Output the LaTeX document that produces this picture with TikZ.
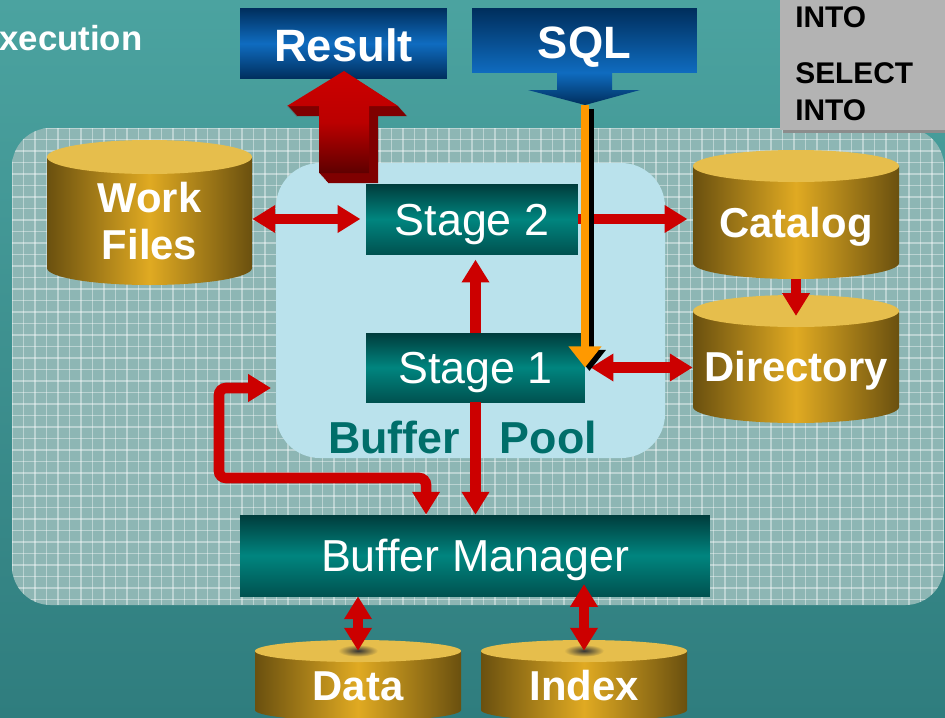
\documentclass[tikz,border=0pt]{standalone}
\usepackage{fontspec}
\setmainfont{Liberation Sans}
\usetikzlibrary{arrows.meta,calc}
\definecolor{bgtop}{HTML}{4BA3A0}
\definecolor{bgbot}{HTML}{2F7D7E}
\definecolor{panelfill}{HTML}{8DB6B4}
\definecolor{poolfill}{HTML}{BAE2EC}
\definecolor{tealdk}{HTML}{003C3C}
\definecolor{tealmd}{HTML}{00857F}
\definecolor{bluedk}{HTML}{002E5C}
\definecolor{bluemd}{HTML}{0F6CC0}
\definecolor{golddk}{HTML}{6A500F}
\definecolor{goldmd}{HTML}{E0AA22}
\definecolor{goldtop}{HTML}{E6BE4C}
\definecolor{arrred}{HTML}{CC0000}
\definecolor{arrdark}{HTML}{5E0000}
\definecolor{sqlorange}{HTML}{FF9900}
\definecolor{pooltext}{HTML}{006E6A}
\definecolor{greybox}{HTML}{B3B3B3}
\newcommand{\drum}[8][]{%
  \pgfmathsetmacro{\drumrx}{#5*0.02}%
  \pgfmathsetmacro{\drumry}{#6*0.02}%
  \pgfmathsetmacro{\drumw}{#5*0.04}%
  \pgfmathsetmacro{\drumh}{(#6+#7)*0.02}%
  \shade[left color=golddk,right color=golddk,middle color=goldmd]
    ({#3-#5},{#4}) -- ++(0,#7) arc[start angle=180,end angle=360,x radius=\drumrx cm,y radius=\drumry cm] -- ++(0,-#7) -- cycle;
  \fill[goldtop] ({#3},{#4}) ellipse[x radius=\drumrx cm,y radius=\drumry cm];
  \node[drumlabel,#1,minimum width=\drumw cm,minimum height=\drumh cm] (#2) at ({#3},{#4+(#6+#7)/2}) {#8};
}
\begin{document}
\begin{tikzpicture}[x=0.02cm,y=-0.02cm,
    stagebox/.style={rectangle,inner sep=0pt,top color=tealdk,bottom color=tealdk!70!tealmd,middle color=tealmd,text=white,font=\fontsize{25.5}{30}\selectfont,text height=18.3pt,text depth=0pt},
    bluebox/.style={rectangle,inner sep=0pt,text=white,font=\bfseries\fontsize{25.8}{30}\selectfont,text height=21pt,text depth=0pt},
    drumlabel/.style={inner sep=0pt,text=white,font=\bfseries\fontsize{23.8}{26.6}\selectfont,align=center},
    oneline/.style={text height=17pt,text depth=0pt},
    stmt/.style={anchor=base west,inner sep=0pt,font=\bfseries\fontsize{17}{20}\selectfont},
    redline/.style={draw=arrred,line width=6pt,>={Triangle[length=13pt,width=15pt]}},
    sqlline/.style={draw=sqlorange,line width=5pt,>={Triangle[length=12pt,width=18pt]}}]
  \useasboundingbox (0,0) rectangle (945,717);
  \shade[top color=bgtop,bottom color=bgbot] (0,0) rectangle (945,717);
  \node[anchor=base west,inner sep=0pt,text=white,font=\bfseries\fontsize{19.8}{24}\selectfont] (title) at (-1,50) {xecution};

  \fill[panelfill,rounded corners=22pt] (12,128) rectangle (944,605);
  \begin{scope}
    \clip[rounded corners=22pt] (12,128) rectangle (944,605);
    \foreach \gx in {12,23.5,...,944} \draw[white,opacity=.4,line width=.7pt] (\gx,128) -- (\gx,605);
    \foreach \gy in {128,139.5,...,605} \draw[white,opacity=.4,line width=.7pt] (12,\gy) -- (944,\gy);
  \end{scope}

  \fill[black!45] (783,129) rectangle (945,133);
  \fill[greybox] (780,0) rectangle (945,130);
  \node[stmt] (into1) at (795,27) {INTO};
  \node[stmt] (select) at (795,83) {SELECT};
  \node[stmt] (into2) at (795,120) {INTO};

  \fill[poolfill,rounded corners=25pt] (276,163) rectangle (665,458);
  \node[inner sep=0pt,text=pooltext,font=\bfseries\fontsize{25.5}{30}\selectfont,text height=18.3pt,text depth=0pt] (poollabel) at (462.5,437.5) {Buffer\hspace{22.7pt}Pool};

  \drum{work}{149.5}{157}{102.5}{17}{111}{Work\\Files}
  \drum[oneline]{catalog}{796}{166}{103}{16}{97}{Catalog}
  \drum[oneline]{directory}{796}{311}{103}{16}{96}{Directory}
  \drum[oneline]{data}{358}{651}{103}{11}{59}{Data}
  \drum[oneline]{index}{584}{651}{103}{11}{59}{Index}
  \shade[inner color=black!80,outer color=goldtop] (data.north) ellipse[x radius=.4cm,y radius=.12cm];
  \shade[inner color=black!80,outer color=goldtop] (index.north) ellipse[x radius=.4cm,y radius=.12cm];

  \node[stagebox,minimum width=4.24cm,minimum height=1.4cm] (stage2) at (472,219) {Stage 2};
  \node[stagebox,minimum width=4.38cm,minimum height=1.38cm] (stage1) at (475.5,367.5) {Stage 1};
  \node[stagebox,minimum width=9.4cm,minimum height=1.62cm] (bm) at (475,555.5) {Buffer Manager};

  \node[bluebox,top color=bluedk,bottom color=bluedk,middle color=bluemd,minimum width=4.14cm,minimum height=1.42cm] (result) at (343.5,43.5) {Result};
  \node[bluebox,top color=bluedk,bottom color=bluemd,minimum width=4.5cm,minimum height=1.3cm] (sql) at (584.5,40.5) {SQL};
  \shade[top color=bluemd,bottom color=bluedk] (557,72.5) -- (557,90) -- (528,90) -- (585,105) -- (640,90) -- (612,90) -- (612,72.5) -- cycle;
  \coordinate (sqltip) at (585,105);
  \coordinate (poolin) at (271,388);

  \draw[redline,<->,shorten >=3pt] (stage2.west -| work.east) -- (stage2.west);
  \draw[redline,->,shorten >=3pt] (stage2.east) -- (stage2.east -| catalog.west);
  \draw[redline,->,shorten >=-3pt] (catalog.south) -- (directory.north);
  \draw[redline,<->,shorten <=3pt] (stage1.east) -- (stage1.east -| directory.west);
  \draw[redline,->,shorten >=3pt] (stage1.north) -- (stage1.north |- stage2.south);
  \draw[redline,->] (stage1.south) -- (stage1.south |- bm.north);
  \draw[redline,<->,rounded corners=4pt] (poolin) -| ++(-52,90) -| ($(bm.north west)!0.396!(bm.north east)$);
  \draw[redline,<->] (data.north |- bm.south) -- (data.north);
  \draw[redline,<->,shorten <=-7pt] (index.north |- bm.south) -- (index.north);

  \foreach \k in {1,...,10}
    \fill[arrdark!70!arrred,shift={(\k*0.9,\k)}] (344,71) -- (398,106) -- (369,106) -- (369,173) -- (319,173) -- (319,106) -- (287,106) -- cycle;
  \shade[top color=arrred,bottom color=arrdark,middle color=arrred!85!arrdark] (344,71) -- (398,106) -- (369,106) -- (369,173) -- (319,173) -- (319,106) -- (287,106) -- cycle;

  \draw[sqlline,->,draw=black,transform canvas={xshift=2.5pt,yshift=-2pt}] (sqltip) -- (sqltip |- stage1.east);
  \draw[sqlline,->] (sqltip) -- (sqltip |- stage1.east);
\end{tikzpicture}
\end{document}
